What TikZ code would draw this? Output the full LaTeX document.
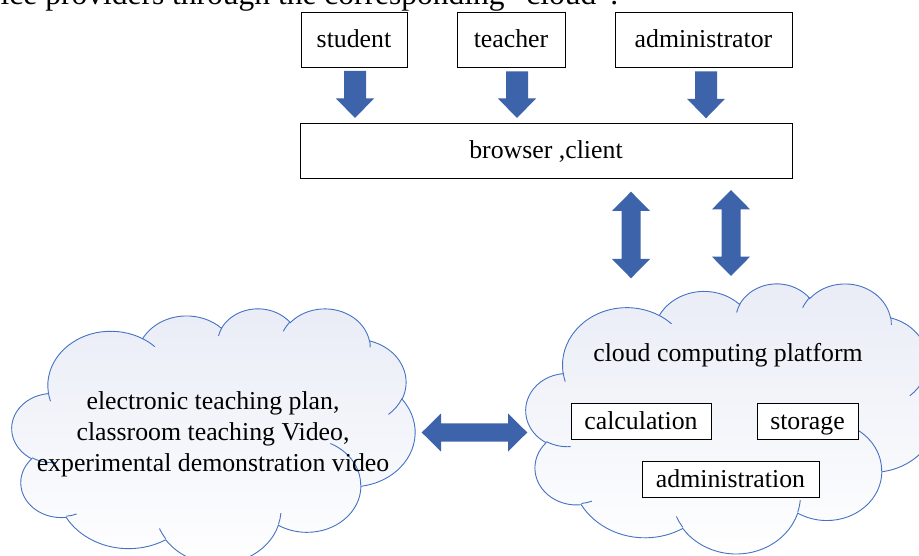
\documentclass[tikz,border=0pt]{standalone}
\usepackage{fontspec}
\setmainfont{Liberation Serif}
\usetikzlibrary{calc}
\definecolor{arrowblue}{RGB}{61,99,171}
\definecolor{cloudline}{RGB}{68,114,196}
\definecolor{cloudtop}{RGB}{233,236,246}

% convert a DrawingML "visual" ellipse angle into the parametric angle used by TikZ
\newcommand\setang[4]{%
  \pgfmathsetmacro\tmpd{atan2((#2)*sin(#4),(#3)*cos(#4))-(#4)}%
  \pgfmathsetmacro\tmpe{(#4)+asin(sin(\tmpd))}%
  \expandafter\xdef\csname ang#1\endcsname{\tmpe}}
\setang{As}{6.753}{9.190}{-190.487}\setang{Ae}{6.753}{9.190}{-66.706}
\setang{Bs}{5.333}{7.267}{-144.102}\setang{Be}{5.333}{7.267}{-54.157}
\setang{Cs}{4.365}{5.945}{-145.808}\setang{Ce}{4.365}{5.945}{-46.085}
\setang{Ds}{4.857}{6.595}{-130.986}\setang{De}{4.857}{6.595}{-13.744}
\setang{Es}{5.333}{7.273}{-78.709}\setang{Ee}{5.333}{7.273}{30.318}
\setang{Fs}{6.775}{9.220}{-46.267}\setang{Fe}{6.775}{9.220}{84.002}
\setang{Gs}{5.785}{7.867}{0.625}\setang{Ge}{5.785}{7.867}{114.658}
\setang{Hs}{6.752}{9.215}{22.452}\setang{He}{6.752}{9.215}{137.625}
\setang{Is}{7.720}{10.543}{66.243}\setang{Ie}{7.720}{10.543}{141.954}
\setang{Js}{4.360}{5.918}{-274.942}\setang{Je}{4.360}{5.918}{-128.206}
\setang{Ks}{4.345}{5.945}{-246.829}\setang{Ke}{4.345}{5.945}{-94.306}
\setang{as}{4.345}{5.945}{86.742}\setang{ae}{4.345}{5.945}{113.172}
\setang{bs}{4.360}{5.918}{73.610}\setang{be}{4.360}{5.918}{85.058}
\setang{cs}{6.752}{9.215}{137.624}\setang{ce}{6.752}{9.215}{151.705}
\setang{ds}{6.752}{9.215}{6.453}\setang{de}{6.752}{9.215}{22.451}
\setang{es}{5.785}{7.867}{-70.292}\setang{ee}{5.785}{7.867}{0.625}
\setang{fs}{5.333}{7.273}{30.318}\setang{fe}{5.333}{7.273}{58.070}
\setang{gs}{4.857}{6.595}{-13.744}\setang{ge}{4.857}{6.595}{1.115}
\setang{hs}{4.857}{6.595}{-149.181}\setang{he}{4.857}{6.595}{-130.986}
\setang{is}{4.365}{5.945}{-163.494}\setang{ie}{4.365}{5.945}{-145.808}
\setang{js}{6.753}{9.190}{-66.707}\setang{je}{6.753}{9.190}{-54.388}
\setang{ks}{6.753}{9.190}{157.654}\setang{ke}{6.753}{9.190}{169.513}

\tikzset{
  box/.style={draw=black, line width=0.8pt, fill=white, inner sep=0pt,
    text height=17pt, text depth=0pt},
  blockarrow/.style={fill=arrowblue},
  cloudfill/.style={draw=cloudline, line width=0.9pt, top color=cloudtop, bottom color=white},
  cloudinner/.style={draw=cloudline, line width=0.9pt},
}

% #1 name, #2 left, #3 top, #4 width, #5 height (pixels)
\newcommand\cloudshape[5]{%
  \begin{scope}[shift={(#2pt,-#3pt)}, x=1pt, y=1pt, xscale=#4/43.2, yscale=-#5/43.2]
    \path[cloudfill] (3.900,14.370)
      arc[x radius=6.753, y radius=9.190, start angle=\angAs, end angle=\angAe]
      arc[x radius=5.333, y radius=7.267, start angle=\angBs, end angle=\angBe]
      arc[x radius=4.365, y radius=5.945, start angle=\angCs, end angle=\angCe]
      arc[x radius=4.857, y radius=6.595, start angle=\angDs, end angle=\angDe]
      arc[x radius=5.333, y radius=7.273, start angle=\angEs, end angle=\angEe]
      arc[x radius=6.775, y radius=9.220, start angle=\angFs, end angle=\angFe]
      arc[x radius=5.785, y radius=7.867, start angle=\angGs, end angle=\angGe]
      arc[x radius=6.752, y radius=9.215, start angle=\angHs, end angle=\angHe]
      arc[x radius=7.720, y radius=10.543, start angle=\angIs, end angle=\angIe]
      arc[x radius=4.360, y radius=5.918, start angle=\angJs, end angle=\angJe]
      arc[x radius=4.345, y radius=5.945, start angle=\angKs, end angle=\angKe]
      -- cycle;
    \path[cloudinner]
      (4.693,26.177) arc[x radius=4.345, y radius=5.945, start angle=\angas, end angle=\angae]
      (6.928,34.899) arc[x radius=4.360, y radius=5.918, start angle=\angbs, end angle=\angbe]
      (16.478,39.090) arc[x radius=6.752, y radius=9.215, start angle=\angcs, end angle=\angce]
      (28.827,34.751) arc[x radius=6.752, y radius=9.215, start angle=\angds, end angle=\angde]
      (34.129,22.954) arc[x radius=5.785, y radius=7.867, start angle=\anges, end angle=\angee]
      (41.798,15.354) arc[x radius=5.333, y radius=7.273, start angle=\angfs, end angle=\angfe]
      (38.324,5.426) arc[x radius=4.857, y radius=6.595, start angle=\anggs, end angle=\angge]
      (29.078,3.952) arc[x radius=4.857, y radius=6.595, start angle=\anghs, end angle=\anghe]
      (22.141,4.720) arc[x radius=4.365, y radius=5.945, start angle=\angis, end angle=\angie]
      (14.000,5.192) arc[x radius=6.753, y radius=9.190, start angle=\angjs, end angle=\angje]
      (4.127,15.789) arc[x radius=6.753, y radius=9.190, start angle=\angks, end angle=\angke];
    \coordinate (#1) at (21.6,21.6);
  \end{scope}}

\newcommand\blockdown[2]{%
  \fill[blockarrow] let \p1=(#1), \p2=(#2) in
    (\x1-11pt,\y1) -- (\x1+11pt,\y1) -- (\x1+11pt,\y2+19.5pt) -- (\x1+19pt,\y2+19.5pt)
    -- (\x1,\y2) -- (\x1-19pt,\y2+19.5pt) -- (\x1-11pt,\y2+19.5pt) -- cycle;}
\newcommand\blockvboth[2]{%
  \fill[blockarrow] let \p1=(#1), \p2=(#2) in
    (\x1,\y1) -- (\x1+19pt,\y1-19.3pt) -- (\x1+9.5pt,\y1-19.3pt) -- (\x1+9.5pt,\y2+19.3pt)
    -- (\x1+19pt,\y2+19.3pt) -- (\x1,\y2) -- (\x1-19pt,\y2+19.3pt) -- (\x1-9.5pt,\y2+19.3pt)
    -- (\x1-9.5pt,\y1-19.3pt) -- (\x1-19pt,\y1-19.3pt) -- cycle;}
\newcommand\blockhboth[2]{%
  \fill[blockarrow] let \p1=(#1), \p2=(#2) in
    (\x1,\y1) -- (\x1+19.3pt,\y1+19pt) -- (\x1+19.3pt,\y1+9.2pt) -- (\x2-19.3pt,\y1+9.2pt)
    -- (\x2-19.3pt,\y1+19pt) -- (\x2,\y1) -- (\x2-19.3pt,\y1-19pt) -- (\x2-19.3pt,\y1-9.2pt)
    -- (\x1+19.3pt,\y1-9.2pt) -- (\x1+19.3pt,\y1-19pt) -- cycle;}

\begin{document}
\begin{tikzpicture}[x=1pt, y=-1pt, font=\fontsize{25.8}{31}\selectfont]
\useasboundingbox (0,0) rectangle (919,556);
\clip (0,0) rectangle (919,556);

\node[anchor=base west, inner sep=0pt, font=\fontsize{31.5}{36}\selectfont] (intro) at (0.5,5)
  {ice providers through the corresponding “cloud”.};

% top boxes
\node[box, minimum width=106pt, minimum height=55pt] (student) at (354,39.5) {student};
\node[box, minimum width=108pt, minimum height=55pt] (teacher) at (511,39.5) {teacher};
\node[box, minimum width=177pt, minimum height=55pt] (admin) at (703.5,39.5) {administrator};
\node[box, minimum width=492pt, minimum height=55pt] (browser) at (546,150.5) {browser ,client};

% clouds
\cloudshape{lcloud}{12}{308}{403}{255}
\cloudshape{rcloud}{526}{283}{411}{270}

\node[align=center, inner sep=0pt] (res) at (213,434.5)
  {electronic teaching plan,\\classroom teaching Video,\\experimental demonstration video};
\node[anchor=base, inner sep=0pt] (platform) at (728,361) {cloud computing platform};
\node[box, minimum width=140pt, minimum height=36pt] (calc) at (641,421) {calculation};
\node[box, minimum width=101pt, minimum height=36pt] (stor) at (807.5,421) {storage};
\node[box, minimum width=177pt, minimum height=36pt] (adm) at (730.5,479) {administration};

% block arrows
\coordinate (d1s) at (355,71);   \coordinate (d1e) at (355,118);
\coordinate (d2s) at (517,71.5); \coordinate (d2e) at (517,118);
\coordinate (d3s) at (706,71.5); \coordinate (d3e) at (706,118.3);
\blockdown{d1s}{d1e}
\blockdown{d2s}{d2e}
\blockdown{d3s}{d3e}
\coordinate (v1s) at (631,191.7); \coordinate (v1e) at (631,278.3);
\coordinate (v2s) at (731,190);   \coordinate (v2e) at (731,276);
\blockvboth{v1s}{v1e}
\blockvboth{v2s}{v2e}
\coordinate (h1s) at (421.7,432.5); \coordinate (h1e) at (527.3,432.5);
\blockhboth{h1s}{h1e}
\end{tikzpicture}
\end{document}
